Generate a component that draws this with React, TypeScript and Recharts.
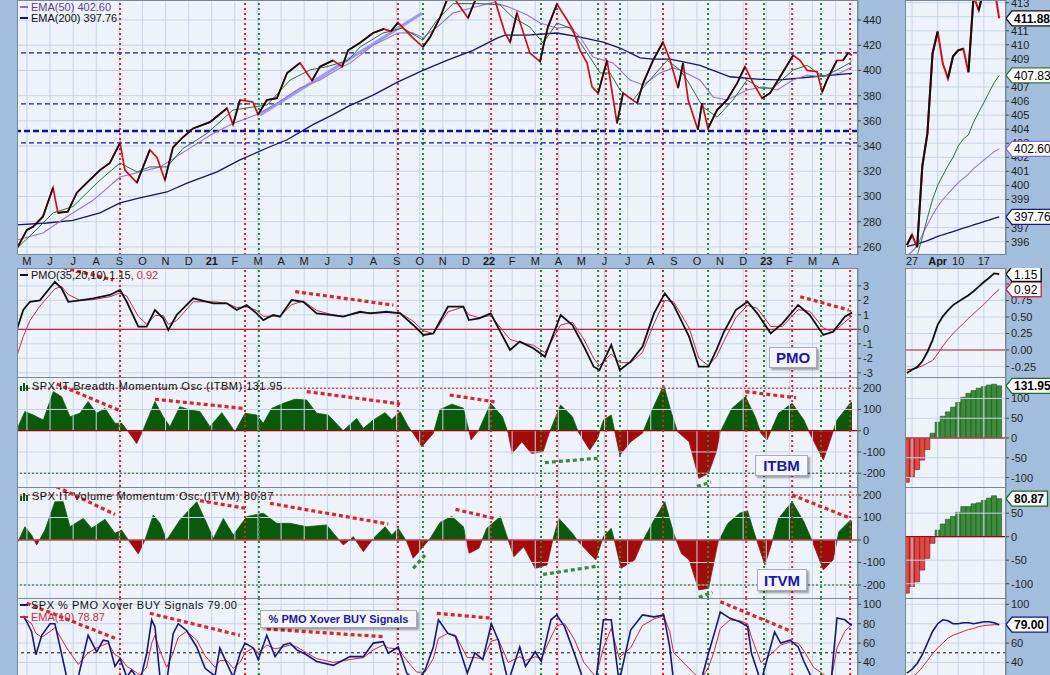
import { type ReactNode } from "react";
import {
  Area,
  Bar,
  CartesianGrid,
  Cell,
  ComposedChart,
  Line,
  ReferenceLine,
  XAxis,
  YAxis
} from "recharts";

type Pt = [number, number];
type Seg = [number, number, number, number];

// x = months counted from Jan 2020 (4 = May 2020 ... 39 = Apr 2023)
const priceSeries: Pt[] = [
  [3.57, 259], [4.0, 273.5], [4.26, 276], [4.69, 284], [5.13, 307], [5.34, 287], [5.77, 288], [6.16, 303],
  [6.6, 311], [7.16, 321], [7.59, 326.6], [8.03, 342.5], [8.24, 321], [8.76, 311], [9.32, 337], [9.63, 331],
  [9.97, 313], [10.32, 339], [10.75, 347], [11.19, 354], [11.92, 359], [12.66, 370], [12.92, 357], [13.22, 376.6],
  [13.78, 375], [14.0, 365], [14.39, 376.6], [14.82, 378], [15.26, 398], [15.82, 406], [16.34, 392], [16.68, 403],
  [17.25, 408], [17.64, 403], [17.9, 416], [18.42, 422], [18.98, 429.7], [19.45, 433], [19.75, 431], [20.06, 438],
  [20.67, 426.5], [21.14, 418.6], [21.45, 426.5], [21.88, 442], [22.31, 462], [23.09, 441.6], [23.61, 465], [24.04, 470],
  [24.35, 450], [24.69, 429.7], [24.91, 422.5], [25.21, 445.5], [25.77, 413.8], [26.21, 407], [26.38, 421.8], [26.55, 434.4],
  [26.94, 452.7], [27.38, 440], [27.64, 432], [27.94, 416], [28.24, 406], [28.46, 387], [28.72, 382], [29.11, 408],
  [29.54, 358], [29.8, 382], [30.41, 374], [30.67, 390], [31.1, 408], [31.53, 422.5], [31.84, 408], [32.18, 386],
  [32.4, 406], [32.62, 376.6], [33.04, 353], [33.22, 374], [33.48, 354], [33.87, 368.6], [34.3, 376.6], [34.74, 390],
  [35.08, 403], [35.43, 390], [35.82, 378], [36.16, 382], [36.6, 395], [37.16, 412], [37.46, 408], [37.77, 400],
  [38.2, 399], [38.42, 383], [38.63, 392.5], [39.06, 408], [39.32, 408], [39.54, 413.8], [39.71, 411.88]
];

const ema20Series: Pt[] = [
  [3.57, 259], [4.26, 271], [5.13, 287], [5.99, 292], [7.16, 313], [8.03, 326.6], [8.76, 319.5], [9.32, 323.5],
  [10.06, 323.5], [10.75, 338], [11.79, 350], [12.92, 368.6], [13.78, 371], [14.39, 372.6], [15.39, 392.4], [16.25, 400.4],
  [16.99, 403], [17.9, 408], [18.42, 418.6], [19.41, 429.7], [20.28, 433.7], [21.14, 424], [21.75, 440], [22.44, 453],
  [23.61, 453], [24.48, 452], [25.04, 442], [25.77, 434.4], [26.34, 421.8], [26.94, 437.6], [27.51, 433.7], [28.24, 414],
  [28.81, 398], [29.24, 398], [29.67, 384.5], [30.23, 376.6], [30.84, 390], [31.71, 408], [32.27, 400.4], [32.62, 391],
  [33.26, 371], [33.87, 363], [34.56, 376.6], [35.17, 392.4], [35.73, 386], [36.29, 386], [37.16, 400.4], [37.77, 404],
  [38.46, 395], [39.06, 400.4], [39.62, 406], [39.71, 407.83]
];

const ema50Series: Pt[] = [
  [3.57, 265.5], [4.69, 271], [5.73, 284], [6.86, 297], [8.03, 315.5], [8.89, 319.5], [9.76, 323.5], [10.93, 337],
  [12.05, 350], [12.92, 358], [13.95, 365], [14.82, 374], [15.82, 386], [16.68, 392.4], [17.55, 402], [18.0, 406],
  [18.98, 420], [20.06, 429.7], [20.67, 430], [21.14, 426], [21.75, 434.4], [22.44, 445.5], [23.31, 450], [24.17, 454],
  [24.91, 450], [25.65, 444], [26.21, 437.6], [26.94, 433.7], [27.51, 434.4], [27.94, 426.5], [28.5, 410.6], [29.37, 406],
  [30.1, 392.4], [30.67, 388.5], [31.4, 398], [31.97, 402], [32.27, 400.4], [33.13, 392.4], [33.7, 379], [34.3, 376.6],
  [35.17, 384.5], [35.86, 387], [36.47, 384.5], [37.16, 392.4], [37.77, 396.4], [38.33, 395], [39.19, 398], [39.62, 402],
  [39.71, 402.6]
];

const ema200Series: Pt[] = [
  [3.57, 277.5], [4.87, 279], [5.99, 281], [7.16, 287], [8.03, 295], [8.89, 299], [10.06, 303.6], [10.93, 310.6],
  [12.23, 319.5], [13.22, 329], [14.39, 338.5], [15.26, 345], [16.38, 357], [17.25, 365], [17.9, 371.5], [18.98, 380.5],
  [20.06, 391], [21.14, 400], [22.18, 408], [23.31, 416], [24.35, 425.7], [24.69, 428], [25.65, 428], [26.94, 429.7],
  [27.94, 426.5], [28.94, 422.5], [29.67, 417.8], [30.54, 410], [31.1, 409], [31.84, 409], [32.62, 406], [33.13, 404],
  [34.43, 395], [35.73, 393], [36.6, 392.5], [38.03, 395], [39.71, 397.76]
];

const pmoSeries: Pt[] = [
  [3.57, 0.0], [3.84, 1.33], [4.13, 1.9], [4.56, 2.0], [5.21, 3.28], [5.5, 2.83], [5.79, 1.9], [6.29, 2.0],
  [6.87, 2.14], [7.59, 2.37], [8.03, 2.71], [8.32, 1.9], [8.82, 0.18], [9.18, 0.18], [9.54, 1.33], [9.9, 0.76],
  [10.12, -0.05], [10.48, 0.99], [11.2, 2.14], [12.07, 1.79], [12.65, 1.79], [13.08, 1.33], [13.51, 1.68], [13.94, 1.1],
  [14.23, 0.64], [14.66, 0.99], [14.95, 0.87], [15.46, 2.02], [15.96, 1.9], [16.54, 1.1], [17.12, 0.99], [17.69, 0.87],
  [18.42, 1.21], [18.85, 1.1], [19.57, 1.21], [20.15, 1.1], [20.72, 0.3], [21.16, -0.39], [21.59, -0.28], [22.22, 1.56],
  [22.89, 1.56], [23.13, 0.64], [23.57, 0.76], [24.07, 1.1], [24.91, -1.43], [25.33, -0.85], [25.92, -1.31], [26.42, -1.89],
  [27.1, 0.99], [27.61, 0.3], [28.11, -1.2], [28.53, -2.58], [28.78, -2.81], [29.29, -1.08], [29.66, -2.81], [30.13, -2.23],
  [30.64, -1.2], [31.14, 1.1], [31.61, 2.48], [31.99, 1.68], [32.66, -0.51], [33.08, -2.58], [33.5, -2.58], [33.84, -1.43],
  [34.17, -0.17], [34.68, 1.33], [35.19, 1.9], [35.61, 1.1], [36.19, -0.28], [36.7, 0.41], [37.38, 1.68], [37.88, 0.99],
  [38.47, -0.39], [38.89, -0.17], [39.4, 0.87], [39.71, 1.15]
];

const pmoSignalSeries: Pt[] = [
  [3.57, -1.8], [3.84, -0.5], [4.13, 0.6], [4.56, 1.6], [5.21, 2.8], [5.5, 2.95], [5.79, 2.4], [6.29, 2.0],
  [6.87, 2.05], [7.59, 2.25], [8.03, 2.5], [8.32, 2.3], [8.82, 0.9], [9.18, 0.35], [9.54, 0.95], [9.9, 0.95],
  [10.12, 0.35], [10.48, 0.6], [11.2, 1.9], [12.07, 1.9], [12.65, 1.8], [13.08, 1.5], [13.51, 1.55], [13.94, 1.3],
  [14.23, 0.9], [14.66, 0.9], [14.95, 0.9], [15.46, 1.7], [15.96, 1.95], [16.54, 1.3], [17.12, 1.05], [17.69, 0.9],
  [18.42, 1.15], [18.85, 1.15], [19.57, 1.15], [20.15, 1.15], [20.72, 0.55], [21.16, -0.1], [21.59, -0.3], [22.22, 1.2],
  [22.89, 1.55], [23.13, 1.0], [23.57, 0.8], [24.07, 0.95], [24.91, -0.7], [25.33, -0.9], [25.92, -1.1], [26.42, -1.6],
  [27.1, 0.3], [27.61, 0.5], [28.11, -0.7], [28.53, -2.0], [28.78, -2.5], [29.29, -1.7], [29.66, -2.3], [30.13, -2.3],
  [30.64, -1.6], [31.14, 0.4], [31.61, 2.0], [31.99, 1.9], [32.66, 0.1], [33.08, -2.0], [33.5, -2.5], [33.84, -1.9],
  [34.17, -0.8], [34.68, 0.8], [35.19, 1.65], [35.61, 1.45], [36.19, 0.2], [36.7, 0.2], [37.38, 1.35], [37.88, 1.25],
  [38.47, 0.1], [38.89, -0.2], [39.4, 0.5], [39.71, 0.92]
];

const itbmSeries: Pt[] = [
  [3.62, 19], [3.91, 90], [4.27, 74], [4.71, 50], [5.14, 184], [5.5, 160], [5.86, 66], [6.29, 82],
  [6.65, 137], [7.02, 82], [7.38, 105], [7.81, 35], [8.1, 35], [8.39, -5], [8.75, -60], [9.03, 3],
  [9.54, 137], [9.9, 66], [10.19, 19], [10.62, 113], [11.06, 97], [11.49, 90], [11.92, 19], [12.43, 85],
  [12.86, 19], [13.0, -5], [13.44, 82], [13.94, 74], [14.23, 35], [14.59, 105], [15.1, 129], [15.6, 148],
  [16.11, 144], [16.54, 82], [17.04, 74], [17.69, 0], [18.27, 58], [18.56, 11], [18.99, 50], [19.5, 85],
  [19.79, 53], [20.15, 90], [20.51, 19], [20.72, -12], [21.09, -75], [21.59, -12], [21.88, 100], [22.39, 125],
  [22.89, 106], [23.14, -5], [23.22, -44], [23.56, 3], [24.07, 129], [24.58, 66], [24.83, -12], [25.0, -107],
  [25.42, -52], [25.84, -107], [26.34, -99], [26.6, -12], [27.1, 121], [27.61, 66], [27.86, -5], [28.36, -91],
  [28.7, -36], [28.95, 50], [29.29, 74], [29.46, -12], [29.66, -115], [30.13, -52], [30.64, -12], [31.06, 97],
  [31.56, 215], [31.9, 82], [32.16, -5], [32.66, -52], [33.08, -224], [33.5, -200], [33.84, -99], [34.01, -5],
  [34.51, 105], [35.1, 160], [35.52, 66], [35.77, -12], [36.03, -44], [36.53, 82], [37.12, 129], [37.63, 50],
  [37.88, -12], [38.47, -138], [38.72, -60], [39.06, 50], [39.65, 132], [39.71, 131.95]
];

const itvmSeries: Pt[] = [
  [3.62, -7], [3.91, 59], [4.2, 22], [4.42, -22], [4.78, 44], [5.21, 170], [5.57, 170], [5.86, 59],
  [6.44, 96], [6.8, 52], [7.38, 92], [7.81, 30], [8.1, 44], [8.39, 0], [8.82, -62], [9.11, 0],
  [9.47, 111], [9.76, 74], [10.05, 0], [10.62, 89], [11.35, 170], [11.78, 74], [12.07, 7], [12.5, 96],
  [12.93, 22], [13.51, 104], [14.23, 119], [14.81, 74], [15.39, 74], [16.11, 59], [16.97, 67], [17.69, -22],
  [18.13, 15], [18.56, -52], [18.99, 7], [19.5, 59], [19.79, 22], [20.07, 52], [20.44, -7], [20.72, -81],
  [21.09, -37], [21.45, 7], [21.88, 78], [22.39, 105], [22.89, 59], [23.14, -59], [23.56, -37], [23.9, 52],
  [24.49, 104], [24.83, 0], [25.08, -74], [25.5, -30], [26.0, -126], [26.51, -111], [26.76, 0], [27.02, 96],
  [27.61, 30], [27.86, -7], [28.62, -89], [28.95, 15], [29.29, 52], [29.46, -15], [29.71, -126], [30.3, -89],
  [30.64, -7], [31.14, 89], [31.61, 170], [31.99, 30], [32.32, -59], [32.66, -89], [33.08, -222], [33.5, -215],
  [33.92, -7], [34.34, 74], [34.85, 119], [35.19, 130], [35.44, 44], [35.94, -111], [36.19, -30], [36.53, 96],
  [37.12, 170], [37.63, 81], [37.97, 0], [38.47, -133], [38.89, -89], [39.14, 37], [39.65, 89], [39.71, 80.87]
];

const xoverSeries: Pt[] = [
  [3.85, 88], [3.99, 82], [4.2, 72], [4.39, 48], [4.64, 68], [5.0, 80], [5.21, 80], [5.72, 25], [6.22, 25],
  [6.65, 68], [7.02, 51], [7.3, 63], [7.52, 62], [7.81, 36], [8.03, 44], [8.32, 25], [8.53, 32], [8.89, 20],
  [9.18, 49], [9.4, 84], [9.54, 77], [9.76, 25], [10.05, 20], [10.33, 70], [10.55, 80], [10.91, 73], [11.35, 56],
  [11.71, 34], [12.14, 26], [12.35, 55], [12.65, 39], [12.93, 25], [13.22, 49], [13.44, 60], [13.8, 55], [14.01, 43],
  [14.38, 68], [14.74, 46], [15.1, 58], [15.39, 60], [15.68, 53], [16.1, 48], [16.54, 41], [17.26, 37], [17.98, 46],
  [18.56, 46], [18.99, 60], [19.42, 61.5], [19.64, 49.5], [20.07, 56], [20.44, 29], [20.87, 20], [21.23, 32], [21.59, 56],
  [21.81, 84], [22.22, 70], [22.55, 67], [23.06, 29], [23.39, 50], [23.73, 43], [24.1, 80], [24.4, 63], [24.83, 20],
  [25.33, 56], [25.58, 36], [26.0, 51], [26.26, 41], [26.68, 84], [26.93, 89], [27.27, 77], [27.69, 49.5], [28.11, 20],
  [28.62, 20], [28.95, 84], [29.29, 84], [29.63, 20], [30.13, 73.5], [30.64, 89], [31.14, 87], [31.56, 89], [31.82, 56],
  [31.99, 20], [33.16, 20], [33.5, 49.5], [33.75, 70], [34.01, 92], [34.43, 85.5], [34.85, 82], [35.19, 77], [35.36, 49.5],
  [35.77, 20], [36.36, 71.5], [36.62, 60], [37.04, 63], [37.38, 56], [37.63, 41], [38.05, 20], [38.81, 22], [39.06, 86],
  [39.4, 84], [39.65, 79], [39.71, 79]
];

const xoverEmaSeries: Pt[] = [
  [3.85, 86], [3.99, 84], [4.2, 80], [4.39, 70], [4.64, 66], [5.0, 72], [5.21, 76], [5.72, 55], [6.22, 38],
  [6.65, 50], [7.02, 55], [7.3, 58], [7.52, 60], [7.81, 48], [8.03, 45], [8.32, 36], [8.53, 33], [8.89, 27],
  [9.18, 35], [9.4, 60], [9.54, 68], [9.76, 52], [10.05, 35], [10.33, 50], [10.55, 66], [10.91, 72], [11.35, 63],
  [11.71, 47], [12.14, 35], [12.35, 42], [12.65, 42], [12.93, 34], [13.22, 40], [13.44, 50], [13.8, 55], [14.01, 50],
  [14.38, 58], [14.74, 54], [15.1, 56], [15.39, 58], [15.68, 56], [16.1, 50], [16.54, 44], [17.26, 40], [17.98, 43],
  [18.56, 45], [18.99, 53], [19.42, 58], [19.64, 55], [20.07, 54], [20.44, 42], [20.87, 30], [21.23, 30], [21.59, 44],
  [21.81, 65], [22.22, 70], [22.55, 68], [23.06, 45], [23.39, 45], [23.73, 44], [24.1, 62], [24.4, 64], [24.83, 40],
  [25.33, 46], [25.58, 42], [26.0, 46], [26.26, 44], [26.68, 66], [26.93, 78], [27.27, 80], [27.69, 64], [28.11, 40],
  [28.62, 25], [28.95, 55], [29.29, 75], [29.63, 45], [30.13, 55], [30.64, 78], [31.14, 85], [31.56, 88], [31.82, 72],
  [31.99, 50], [33.16, 22], [33.5, 35], [33.75, 52], [34.01, 75], [34.43, 84], [34.85, 83], [35.19, 80], [35.36, 66],
  [35.77, 40], [36.36, 52], [36.62, 58], [37.04, 61], [37.38, 60], [37.63, 52], [38.05, 35], [38.81, 22], [39.06, 55],
  [39.4, 72], [39.65, 78], [39.71, 78.87]
];

// signal markers and levels
const redEventMonths = [8.03, 13.44, 20.06, 24.09, 26.94, 29.06, 31.53, 35.13, 37.12, 39.63];
const greenEventMonths = [14.04, 21.14, 26.25, 28.72, 29.67, 33.48, 35.9, 38.37];
const priceLevels = [414, 373.5, 342.5];
const majorPriceLevel = 352;
const priceTrend: Seg = [14.09, 364.7, 21.09, 445.3];

// annotated trend lines [x1, y1, x2, y2]
const pmoTrendsRed: Seg[] = [[5.29, 4.37, 7.74, 3.4], [15.61, 2.6, 19.86, 1.67], [37.47, 2.25, 39.57, 1.33]];
const itbmTrendsRed: Seg[] = [[5.29, 220, 8.03, 94], [9.54, 148, 13.36, 105], [16.11, 184, 20.15, 126], [22.3, 168, 24.24, 136], [35.1, 184, 37.29, 155]];
const itbmTrendsGreen: Seg[] = [[26.42, -150, 28.7, -130], [33.0, -262, 33.6, -242]];
const itvmTrendsRed: Seg[] = [[5.29, 237, 7.81, 114], [11.49, 175, 13.44, 141], [14.52, 163, 19.64, 71], [22.55, 136, 24.24, 96], [37.12, 200, 39.65, 96]];
const itvmTrendsGreen: Seg[] = [[20.72, -126, 21.23, -67], [26.34, -153, 28.7, -116], [33.08, -255, 33.67, -232]];
const xoverTrendsRed: Seg[] = [[3.99, 101, 7.81, 65], [9.32, 90.7, 13.22, 68], [14.38, 74.5, 19.43, 66.6], [21.74, 90.7, 24.15, 85.6], [34.01, 102.7, 37.12, 71.7]];

// last four weeks (trading days from Mar 24 to Apr 20, 2023)
const miniPrice = [395.75, 396.49, 395.6, 401.35, 403.7, 409.39, 410.95, 408.67, 407.6, 409.19, 409.61, 409.72, 408.05, 413.47, 412.46, 413.94, 414.21, 414.14, 411.88];
const miniEma20 = [394.6, 394.8, 395.0, 396.3, 397.7, 399.0, 400.0, 400.7, 401.4, 402.0, 402.8, 403.3, 403.6, 404.5, 405.2, 405.9, 406.6, 407.3, 407.83];
const miniEma50 = [395.0, 395.3, 395.7, 396.5, 397.2, 397.9, 398.5, 399.0, 399.4, 399.8, 400.2, 400.5, 400.8, 401.2, 401.5, 401.8, 402.1, 402.4, 402.6];
const miniEma200 = [395.65, 395.75, 395.83, 395.95, 396.07, 396.22, 396.37, 396.49, 396.6, 396.72, 396.84, 396.96, 397.06, 397.19, 397.3, 397.42, 397.53, 397.65, 397.76];
const miniPmo = [-0.35, -0.3, -0.26, -0.17, -0.03, 0.15, 0.38, 0.51, 0.6, 0.68, 0.73, 0.78, 0.83, 0.89, 0.96, 1.03, 1.09, 1.16, 1.15];
const miniPmoSignal = [-0.3, -0.29, -0.27, -0.24, -0.2, -0.16, -0.06, 0.06, 0.16, 0.25, 0.33, 0.4, 0.48, 0.55, 0.62, 0.69, 0.77, 0.85, 0.92];
const miniItbm = [-112, -99, -80, -56, -29, 12, 40, 55, 66, 78, 90, 103, 113, 120, 126, 130, 134, 136, 131.95];
const miniItvm = [-120, -106, -96, -71, -46, -14, 14, 27, 37, 43, 52, 64, 64, 70, 72, 77, 82, 87, 80.87];
const miniXover = [29, 33, 39, 48, 60, 72, 80, 84, 83, 80, 80, 81, 81, 80, 81, 82, 82, 81, 79];
const miniXoverEma = [22, 25, 29, 35, 42, 49, 55, 60, 65, 68, 70, 72, 74, 75, 77, 78, 78.5, 79, 78.87];
const miniDayTicks = [1, 6, 10, 15];
const miniDayLabels = ["27", "Apr", "10", "17"];

const MONTH_LETTERS = ["J", "F", "M", "A", "M", "J", "J", "A", "S", "O", "N", "D"];
const monthTicks = Array.from({ length: 36 }, (_, i) => i + 4);

const FRAME = "#a2bedc";
const PANEL = "#eef2fa";
const GRID = "#c6d5ea";
const BORDER = "#7c8796";
const RED = "#e02424";
const GREEN = "#1f8a2a";
const FONT = '"Liberation Sans", Arial, sans-serif';

const LEFT = 17;
const PLOT_W = 841;
const AXIS_W = 47;
const MINI_LEFT = 905;
const MINI_PLOT_W = 101;
const MINI_AXIS_W = 44;
const BAND = 13;
const X_DOMAIN: [number, number] = [3.57, 39.97];
const MINI_X_DOMAIN: [number, number] = [-0.37, 19.32];

interface PanelCfg {
  top: number;
  h: number;
  domain: [number, number];
  ticks: number[];
  labels?: number[];
}

const mainPanel: PanelCfg = { top: 0, h: 255, domain: [253.6, 455.9], ticks: [260, 280, 300, 320, 340, 360, 380, 400, 420, 440] };
const pmoPanel: PanelCfg = { top: 268, h: 109, domain: [-3.29, 4.23], ticks: [-3, -2, -1, 0, 1, 2, 3] };
const itbmPanel: PanelCfg = { top: 377, h: 110, domain: [-264.9, 252.7], ticks: [-200, -100, 0, 100, 200] };
const itvmPanel: PanelCfg = { top: 487, h: 111, domain: [-257.8, 235.6], ticks: [-200, -100, 0, 100, 200] };
const xoverPanel: PanelCfg = { top: 598, h: 102, domain: [1.3, 106.5], ticks: [20, 40, 60, 80, 100] };

// grid at every tick; labels skip the ones hidden behind the value tags
const miniMain: PanelCfg = {
  top: 0,
  h: 255,
  domain: [395.05, 413.19],
  ticks: [396, 397, 398, 399, 400, 401, 402, 403, 404, 405, 406, 407, 408, 409, 410, 411, 412, 413],
  labels: [396, 397, 399, 400, 401, 402, 403, 404, 405, 406, 407, 409, 410, 411, 413]
};
const miniPmoPanel: PanelCfg = { top: 268, h: 109, domain: [-0.409, 1.242], ticks: [-0.25, 0, 0.25, 0.5, 0.75, 1] };
const miniItbmPanel: PanelCfg = { top: 377, h: 110, domain: [-124, 154.4], ticks: [-100, -50, 0, 50, 100] };
const miniItvmPanel: PanelCfg = { top: 487, h: 111, domain: [-130.4, 105.7], ticks: [-100, -50, 0, 50] };
const miniXoverPanel: PanelCfg = { top: 598, h: 102, domain: [1.3, 106.5], ticks: [40, 60, 80, 100], labels: [40, 60, 100] };

// splits a series into rising runs, alternating between two keys so gaps stay open
const risingRuns = (vals: number[]) => {
  const a: (number | null)[] = vals.map(() => null);
  const b: (number | null)[] = vals.map(() => null);
  let run = -1;
  let inRun = false;
  for (let i = 0; i < vals.length - 1; i++) {
    if (vals[i + 1] > vals[i]) {
      if (!inRun) {
        run++;
        inRun = true;
      }
      const target = run % 2 === 0 ? a : b;
      target[i] = vals[i];
      target[i + 1] = vals[i + 1];
    } else {
      inRun = false;
    }
  }
  return [a, b];
};

const rows = (pts: Pt[]) => pts.map(([t, v]) => ({ t, v }));
const splitOffset = (pts: Pt[]) => {
  const vals = pts.map((p) => p[1]);
  const max = Math.max(0, ...vals);
  const min = Math.min(0, ...vals);
  return max / (max - min);
};

const priceRise = risingRuns(priceSeries.map((p) => p[1]));
const priceRiseA = priceSeries.map(([t], i) => ({ t, v: priceRise[0][i] }));
const priceRiseB = priceSeries.map(([t], i) => ({ t, v: priceRise[1][i] }));

const miniRise = risingRuns(miniPrice);
const miniRows = miniPrice.map((p, i) => ({
  i,
  price: p,
  riseA: miniRise[0][i],
  riseB: miniRise[1][i],
  ema20: miniEma20[i],
  ema50: miniEma50[i],
  ema200: miniEma200[i],
  pmo: miniPmo[i],
  signal: miniPmoSignal[i],
  itbm: miniItbm[i],
  itvm: miniItvm[i],
  xover: miniXover[i],
  xoverEma: miniXoverEma[i]
}));

const renderMonthTick = (props: any) => {
  const { x, y, payload } = props;
  const m = payload.value as number;
  const isYear = m % 12 === 0;
  return (
    <text x={x} y={y + 10} textAnchor="middle" fontSize={11} fontWeight={isYear ? 700 : 400} fill="#1a1a1a" fontFamily={FONT}>
      {isYear ? String(20 + m / 12) : MONTH_LETTERS[m % 12]}
    </text>
  );
};

const renderMiniDayTick = (props: any) => {
  const { x, y, payload } = props;
  const idx = miniDayTicks.indexOf(payload.value);
  const label = miniDayLabels[idx] ?? "";
  return (
    <text x={x} y={y + 10} textAnchor="middle" fontSize={11} fontWeight={label === "Apr" ? 700 : 400} fill="#1a1a1a" fontFamily={FONT}>
      {label}
    </text>
  );
};

interface Mark {
  value: number;
  label: string;
  color: string;
  bold?: boolean;
}

const makeMiniTick = (fmt: (v: number) => string, marks: Mark[]) => (props: any) => {
  const { x, y, payload } = props;
  const v = payload.value as number;
  const mark = marks.find((m) => m.value === v);
  if (!mark) {
    return (
      <text x={x} y={y + 4} fontSize={11} fill="#1f1f1f" fontFamily={FONT}>
        {fmt(v)}
      </text>
    );
  }
  const w = mark.label.length * 6.3 + 5;
  return (
    <g>
      <path
        d={`M${x - 5},${y} L${x + 1},${y - 7.5} L${x + w},${y - 7.5} L${x + w},${y + 7.5} L${x + 1},${y + 7.5} Z`}
        fill="#ffffff"
        stroke={mark.color}
        strokeWidth={1.4}
      />
      <text x={x + 3} y={y + 4.5} fontSize={12} fontWeight={mark.bold ? 700 : 400} fill="#000" fontFamily={FONT}>
        {mark.label}
      </text>
    </g>
  );
};

const eventLines = (prefix: string) => [
  ...redEventMonths.map((m) => (
    <ReferenceLine key={`${prefix}r${m}`} x={m} stroke={RED} strokeWidth={2} strokeDasharray="2 3" />
  )),
  ...greenEventMonths.map((m) => (
    <ReferenceLine key={`${prefix}g${m}`} x={m} stroke={GREEN} strokeWidth={2} strokeDasharray="2 3" />
  ))
];

const trendLines = (prefix: string, segs: Seg[], color: string) =>
  segs.map((s, i) => (
    <ReferenceLine
      key={`${prefix}${i}`}
      segment={[{ x: s[0], y: s[1] }, { x: s[2], y: s[3] }]}
      stroke={color}
      strokeWidth={3.2}
      strokeDasharray="4 3"
      ifOverflow="hidden"
    />
  ));

const seriesLine = (key: string, data: { t: number; v: number | null }[], color: string, width: number) => (
  <Line
    key={key}
    data={data}
    dataKey="v"
    type="linear"
    stroke={color}
    strokeWidth={width}
    dot={false}
    activeDot={false}
    isAnimationActive={false}
  />
);

const leftChart = (key: string, p: PanelCfg, body: ReactNode[], band = false) => (
  <div key={key} style={{ position: "absolute", left: LEFT, top: p.top }}>
    <ComposedChart width={PLOT_W + AXIS_W} height={p.h + (band ? BAND : 0)} margin={{ top: 0, right: 0, bottom: 0, left: 0 }}>
      <CartesianGrid fill={PANEL} horizontal={false} vertical={false} />
      <XAxis
        type="number"
        dataKey="t"
        domain={X_DOMAIN}
        allowDataOverflow
        ticks={monthTicks}
        interval={0}
        hide={!band}
        height={BAND}
        axisLine={false}
        tickLine={false}
        tickSize={0}
        tickMargin={0}
        tick={renderMonthTick}
      />
      <YAxis
        orientation="right"
        type="number"
        width={AXIS_W}
        domain={p.domain}
        allowDataOverflow
        ticks={p.ticks}
        interval={0}
        tickSize={3}
        tickMargin={2}
        tick={{ fontSize: 11, fill: "#1f1f1f", fontFamily: FONT }}
        axisLine={{ stroke: BORDER }}
        tickLine={{ stroke: "#444" }}
      />
      {p.ticks.map((v) => (
        <ReferenceLine key={`h${v}`} y={v} stroke={GRID} />
      ))}
      {monthTicks.map((m) => (
        <ReferenceLine key={`v${m}`} x={m} stroke={GRID} />
      ))}
      {body}
    </ComposedChart>
  </div>
);

// the dotted signal lines also run through the month band
const bandOverlay = () => (
  <div style={{ position: "absolute", left: LEFT, top: mainPanel.h, pointerEvents: "none" }}>
    <ComposedChart width={PLOT_W + AXIS_W} height={BAND} margin={{ top: 0, right: AXIS_W, bottom: 0, left: 0 }}>
      <XAxis type="number" dataKey="t" domain={X_DOMAIN} allowDataOverflow hide />
      <YAxis type="number" domain={[0, 1]} hide />
      {eventLines("band")}
    </ComposedChart>
  </div>
);

const miniChart = (key: string, p: PanelCfg, tick: (props: any) => ReactNode, marks: number[], body: ReactNode[], band = false) => (
  <div key={key} style={{ position: "absolute", left: MINI_LEFT, top: p.top }}>
    <ComposedChart
      width={MINI_PLOT_W + MINI_AXIS_W}
      height={p.h + (band ? BAND : 0)}
      data={miniRows}
      margin={{ top: 0, right: 0, bottom: 0, left: 0 }}
    >
      <CartesianGrid fill={PANEL} horizontal={false} vertical={false} />
      <XAxis
        type="number"
        dataKey="i"
        domain={MINI_X_DOMAIN}
        allowDataOverflow
        ticks={miniDayTicks}
        interval={0}
        hide={!band}
        height={BAND}
        axisLine={false}
        tickLine={false}
        tickSize={0}
        tickMargin={0}
        tick={renderMiniDayTick}
      />
      <YAxis
        orientation="right"
        type="number"
        width={MINI_AXIS_W}
        domain={p.domain}
        allowDataOverflow
        ticks={[...(p.labels ?? p.ticks), ...marks]}
        interval={0}
        tickSize={3}
        tickMargin={2}
        tick={tick}
        axisLine={{ stroke: BORDER }}
        tickLine={{ stroke: "#444" }}
      />
      {p.ticks.map((v) => (
        <ReferenceLine key={`h${v}`} y={v} stroke={GRID} />
      ))}
      {miniDayTicks.map((d) => (
        <ReferenceLine key={`v${d}`} x={d} stroke={GRID} />
      ))}
      {body}
    </ComposedChart>
  </div>
);

const miniLine = (key: string, color: string, width: number) => (
  <Line key={key} dataKey={key} type="linear" stroke={color} strokeWidth={width} dot={false} activeDot={false} isAnimationActive={false} />
);

const Box = ({ left, top, width, height }: { left: number; top: number; width: number; height: number }) => (
  <div style={{ position: "absolute", left, top, width, height, border: `1px solid ${BORDER}`, boxSizing: "border-box", pointerEvents: "none" }} />
);

const Legend = ({ top, color, children, spacing = 0, bars = false }: { top: number; color: string; children: ReactNode; spacing?: number; bars?: boolean }) => (
  <div
    style={{
      position: "absolute",
      left: 20,
      top,
      display: "flex",
      alignItems: "center",
      fontSize: 11,
      lineHeight: "12px",
      fontFamily: FONT,
      color: "#111",
      letterSpacing: spacing,
      whiteSpace: "nowrap"
    }}
  >
    {bars ? (
      <span style={{ display: "inline-flex", alignItems: "flex-end", height: 9, marginRight: 3 }}>
        {[5, 8, 6].map((h, i) => (
          <span key={i} style={{ display: "inline-block", width: 2, height: h, background: color, marginRight: 1 }} />
        ))}
      </span>
    ) : (
      <span style={{ display: "inline-block", width: 8, height: 2, background: color, marginRight: 3 }} />
    )}
    {children}
  </div>
);

const Tag = ({ left, top, width, height, size, children }: { left: number; top: number; width: number; height: number; size: number; children: ReactNode }) => (
  <div
    style={{
      position: "absolute",
      left,
      top,
      width,
      height,
      boxSizing: "border-box",
      background: "#f4f6fb",
      border: "1px solid #a4acb8",
      boxShadow: "2px 2px 2px rgba(0,0,0,0.35)",
      color: "#1a18a8",
      fontFamily: FONT,
      fontWeight: 700,
      fontSize: size,
      display: "flex",
      alignItems: "center",
      justifyContent: "center",
      whiteSpace: "nowrap"
    }}
  >
    {children}
  </div>
);

const App = () => {
  const itbmOff = splitOffset(itbmSeries);
  const itvmOff = splitOffset(itvmSeries);

  const mainBody = [
    ...eventLines("m"),
    ...priceLevels.map((v) => (
      <ReferenceLine key={`lvl${v}`} y={v} stroke="#1b1b8c" strokeWidth={1.2} strokeDasharray="5 3" />
    )),
    <ReferenceLine key="lvlMajor" y={majorPriceLevel} stroke="#1212a0" strokeWidth={2.6} strokeDasharray="6 3" />,
    <ReferenceLine
      key="ptrend"
      segment={[{ x: priceTrend[0], y: priceTrend[1] }, { x: priceTrend[2], y: priceTrend[3] }]}
      stroke="#9d9df0"
      strokeWidth={3}
      ifOverflow="hidden"
    />,
    seriesLine("ema200", rows(ema200Series), "#15156a", 1.3),
    seriesLine("ema50", rows(ema50Series), "#9a72d6", 1.1),
    seriesLine("ema20", rows(ema20Series), "#2e6e2e", 1),
    seriesLine("price", rows(priceSeries), "#d01010", 1.7),
    seriesLine("riseA", priceRiseA, "#111111", 1.7),
    seriesLine("riseB", priceRiseB, "#111111", 1.7)
  ];

  const pmoBody = [
    ...eventLines("p"),
    <ReferenceLine key="pz" y={0} stroke="#c0203c" strokeWidth={1.2} />,
    seriesLine("signal", rows(pmoSignalSeries), "#c0304a", 1),
    seriesLine("pmo", rows(pmoSeries), "#111111", 1.8),
    ...trendLines("pt", pmoTrendsRed, RED)
  ];

  const oscBody = (
    prefix: string,
    data: Pt[],
    off: number,
    redTrends: Seg[],
    greenTrends: Seg[]
  ) => [
    <defs key={`${prefix}defs`}>
      <linearGradient id={`${prefix}Fill`} x1="0" y1="0" x2="0" y2="1">
        <stop offset={off} stopColor="#0b5a0b" />
        <stop offset={off} stopColor="#a30b0b" />
      </linearGradient>
    </defs>,
    <Area
      key={`${prefix}area`}
      data={rows(data)}
      dataKey="v"
      type="linear"
      baseValue={0}
      fill={`url(#${prefix}Fill)`}
      fillOpacity={1}
      stroke={`url(#${prefix}Fill)`}
      strokeWidth={0.8}
      dot={false}
      activeDot={false}
      isAnimationActive={false}
    />,
    <ReferenceLine key={`${prefix}top`} y={200} stroke="#c01818" strokeDasharray="2 2" />,
    <ReferenceLine key={`${prefix}bot`} y={-200} stroke="#146014" strokeDasharray="2 2" />,
    <ReferenceLine key={`${prefix}z`} y={0} stroke="#b00000" strokeWidth={1.2} />,
    ...eventLines(prefix),
    ...trendLines(`${prefix}tr`, redTrends, RED),
    ...trendLines(`${prefix}tg`, greenTrends, "#3a8a3a")
  ];

  const xoverBody = [
    <ReferenceLine key="x50" y={50} stroke="#111" strokeDasharray="3 3" />,
    ...eventLines("x"),
    seriesLine("xema", rows(xoverEmaSeries), "#cc2a3c", 1),
    seriesLine("xover", rows(xoverSeries), "#16167c", 1.6),
    ...trendLines("xt", xoverTrendsRed, RED)
  ];

  const osc = (prefix: string, key: "itbm" | "itvm") => [
    <ReferenceLine key={`${prefix}z`} y={0} stroke="#b00000" strokeWidth={1.2} />,
    <Bar key={`${prefix}bar`} dataKey={key} barSize={5} isAnimationActive={false}>
      {miniRows.map((r, i) => (
        <Cell
          key={i}
          fill={(r[key] as number) >= 0 ? "#3c8c3c" : "#e04848"}
          stroke={(r[key] as number) >= 0 ? "#1d4d1d" : "#7a1010"}
          strokeWidth={0.6}
        />
      ))}
    </Bar>
  ];

  return (
    <div
      style={{
        position: "absolute",
        left: 0,
        top: 0,
        width: 1050,
        height: 675,
        overflow: "hidden",
        background: FRAME,
        fontFamily: FONT
      }}
    >
      {leftChart("main", mainPanel, mainBody, true)}
      {bandOverlay()}
      {leftChart("pmo", pmoPanel, pmoBody)}
      {leftChart("itbm", itbmPanel, oscBody("itbm", itbmSeries, itbmOff, itbmTrendsRed, itbmTrendsGreen))}
      {leftChart("itvm", itvmPanel, oscBody("itvm", itvmSeries, itvmOff, itvmTrendsRed, itvmTrendsGreen))}
      {leftChart("xover", xoverPanel, xoverBody)}

      {miniChart(
        "mmain",
        miniMain,
        makeMiniTick((v) => String(v), [
          { value: 397.76, label: "397.76", color: "#1b1b7a" },
          { value: 402.6, label: "402.60", color: "#8d6bc9" },
          { value: 407.83, label: "407.83", color: "#2e7d32" },
          { value: 411.88, label: "411.88", color: "#111", bold: true }
        ]),
        [397.76, 402.6, 407.83, 411.88],
        [
          miniLine("ema200", "#15156a", 1.3),
          miniLine("ema50", "#9a72d6", 1.1),
          miniLine("ema20", "#2e6e2e", 1),
          miniLine("price", "#d01010", 2),
          miniLine("riseA", "#111111", 2),
          miniLine("riseB", "#111111", 2)
        ],
        true
      )}
      {miniChart(
        "mpmo",
        miniPmoPanel,
        makeMiniTick((v) => v.toFixed(2), [
          { value: 0.92, label: "0.92", color: "#c0304a" },
          { value: 1.15, label: "1.15", color: "#111" }
        ]),
        [0.92, 1.15],
        [
          <ReferenceLine key="mpz" y={0} stroke="#c0203c" strokeWidth={1.2} />,
          miniLine("signal", "#c0304a", 1),
          miniLine("pmo", "#111111", 1.8)
        ]
      )}
      {miniChart(
        "mitbm",
        miniItbmPanel,
        makeMiniTick((v) => String(v), [{ value: 131.95, label: "131.95", color: "#1e6b1e", bold: true }]),
        [131.95],
        osc("mb", "itbm")
      )}
      {miniChart(
        "mitvm",
        miniItvmPanel,
        makeMiniTick((v) => String(v), [{ value: 80.87, label: "80.87", color: "#1e6b1e", bold: true }]),
        [80.87],
        osc("mv", "itvm")
      )}
      {miniChart(
        "mxover",
        miniXoverPanel,
        makeMiniTick((v) => String(v), [{ value: 79, label: "79.00", color: "#16167c", bold: true }]),
        [79],
        [
          <ReferenceLine key="mx50" y={50} stroke="#111" strokeDasharray="3 3" />,
          miniLine("xoverEma", "#cc2a3c", 1),
          miniLine("xover", "#16167c", 1.6)
        ]
      )}

      <Box left={LEFT} top={0} width={PLOT_W} height={255} />
      <Box left={LEFT} top={268} width={PLOT_W} height={110} />
      <Box left={LEFT} top={377} width={PLOT_W} height={111} />
      <Box left={LEFT} top={487} width={PLOT_W} height={112} />
      <Box left={LEFT} top={598} width={PLOT_W} height={102} />
      <Box left={MINI_LEFT} top={0} width={MINI_PLOT_W} height={255} />
      <Box left={MINI_LEFT} top={268} width={MINI_PLOT_W} height={110} />
      <Box left={MINI_LEFT} top={377} width={MINI_PLOT_W} height={111} />
      <Box left={MINI_LEFT} top={487} width={MINI_PLOT_W} height={112} />
      <Box left={MINI_LEFT} top={598} width={MINI_PLOT_W} height={102} />

      <Legend top={1} color="#8d6bc9">
        <span style={{ color: "#5b3f9a" }}>EMA(50) 402.60</span>
      </Legend>
      <Legend top={12} color="#15156a">
        EMA(200) 397.76
      </Legend>
      <Legend top={269} color="#111">
        PMO(35,20,10) 1.15, <span style={{ color: "#c0304a", marginLeft: 3 }}>0.92</span>
      </Legend>
      <Legend top={380} color="#0b5a0b" spacing={0.5} bars>
        SPX IT Breadth Momentum Osc (ITBM) 131.95
      </Legend>
      <Legend top={490} color="#0b5a0b" spacing={0.5} bars>
        SPX IT Volume Momentum Osc (ITVM) 80.87
      </Legend>
      <Legend top={599} color="#16167c" spacing={0.5}>
        SPX % PMO Xover BUY Signals 79.00
      </Legend>
      <Legend top={611} color="#cc2a3c">
        <span style={{ color: "#cc2a3c" }}>EMA(10) 78.87</span>
      </Legend>

      <Tag left={769} top={347} width={48} height={21} size={15}>
        PMO
      </Tag>
      <Tag left={755} top={455} width={53} height={21} size={15}>
        ITBM
      </Tag>
      <Tag left={757} top={569} width={50} height={22} size={15}>
        ITVM
      </Tag>
      <Tag left={260} top={610} width={157} height={18} size={11}>
        % PMO Xover BUY Signals
      </Tag>
    </div>
  );
};

export default App;
